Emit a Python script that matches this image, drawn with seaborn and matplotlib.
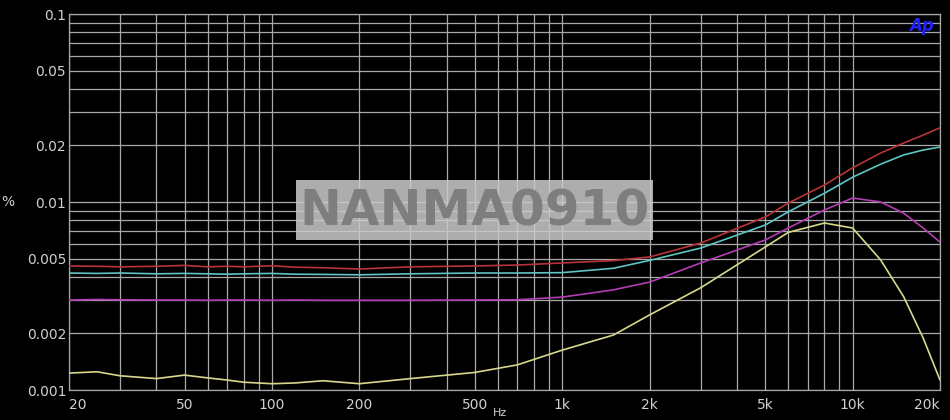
import numpy as np
import pandas as pd
import matplotlib
matplotlib.use("Agg")
import matplotlib.pyplot as plt
from matplotlib.ticker import NullFormatter
from matplotlib.patches import Rectangle
import seaborn as sns

# Frequency points (Hz) and THD+N readings (%)
freq = [20, 25, 30, 40, 50, 60, 70, 80, 100, 120, 150, 200, 300, 500, 700,
        1000, 1500, 2000, 3000, 5000, 6000, 8000, 10000, 12500, 15000, 17500, 20000]

red = [0.00457, 0.00455, 0.00452, 0.00455, 0.00460, 0.00452, 0.00455, 0.00452,
       0.00458, 0.00450, 0.00447, 0.00440, 0.00452, 0.00457, 0.00462, 0.00474,
       0.00488, 0.00510, 0.00605, 0.00832, 0.00986, 0.01232, 0.0152, 0.01823,
       0.0206, 0.0227, 0.0248]
cyan = [0.00419, 0.00417, 0.00419, 0.00415, 0.00417, 0.00415, 0.00413, 0.00415,
        0.00417, 0.00413, 0.00412, 0.00410, 0.00415, 0.00419, 0.00419, 0.00421,
        0.00444, 0.00489, 0.00569, 0.00754, 0.00886, 0.01113, 0.01355, 0.0159,
        0.0178, 0.0189, 0.0196]
magenta = [0.00301, 0.00303, 0.00302, 0.00301, 0.00301, 0.00300, 0.00301, 0.00301,
           0.00300, 0.00301, 0.00300, 0.00300, 0.00300, 0.00301, 0.00302, 0.00312,
           0.00341, 0.00375, 0.00474, 0.00628, 0.00727, 0.00907, 0.0105, 0.0100,
           0.00872, 0.00727, 0.00612]
yellow = [0.00123, 0.00125, 0.00119, 0.00115, 0.00120, 0.00116, 0.00113, 0.00110,
          0.00108, 0.00109, 0.00112, 0.00108, 0.00115, 0.00124, 0.00136, 0.00163,
          0.00196, 0.00251, 0.00350, 0.00576, 0.00689, 0.00773, 0.00727, 0.00491,
          0.00313, 0.00189, 0.00113]

xticks = [20, 50, 100, 200, 500, 1000, 2000, 5000, 10000, 20000]
xlabels = ["20", "50", "100", "200", "500", "1k", "2k", "5k", "10k", "20k"]
yticks = [0.001, 0.002, 0.005, 0.01, 0.02, 0.05, 0.1]
ylabels = ["0.001", "0.002", "0.005", "0.01", "0.02", "0.05", "0.1"]

series = {"red": red, "cyan": cyan, "magenta": magenta, "yellow": yellow}
palette = {"red": "#b8343a", "cyan": "#5fc4c4", "magenta": "#b43cb4", "yellow": "#d8d88c"}

df = pd.concat([pd.DataFrame({"freq": freq, "pct": v, "ch": k}) for k, v in series.items()])

sns.set_style("dark", rc={"axes.facecolor": "black", "figure.facecolor": "black"})
plt.rcParams["font.family"] = ["DejaVu Sans"]

fig = plt.figure(figsize=(9.5, 4.2), dpi=100)
ax = fig.add_axes([69 / 950, 30 / 420, 871 / 950, 376 / 420])

sns.lineplot(data=df, x="freq", y="pct", hue="ch", palette=palette,
             legend=False, linewidth=1.2, ax=ax, zorder=3)

ax.set_xscale("log")
ax.set_yscale("log")
ax.set_xlim(20, 20000)
ax.set_ylim(0.001, 0.1)

ax.grid(True, which="both", color="#a8a8a8", linewidth=0.9, linestyle="-")
ax.set_xticks(xticks)
ax.set_xticklabels(xlabels)
ax.set_yticks(yticks)
ax.set_yticklabels(ylabels)
ax.xaxis.set_minor_formatter(NullFormatter())
ax.yaxis.set_minor_formatter(NullFormatter())
ax.tick_params(which="both", length=0, colors="#d0d0d0", labelsize=10)
ax.tick_params(axis="x", pad=6)
ax.tick_params(axis="y", pad=2)
xt = ax.get_xticklabels()
xt[0].set_ha("left")
xt[-1].set_ha("right")
for s in ax.spines.values():
    s.set_color("#a8a8a8")
    s.set_linewidth(0.9)
ax.set_xlabel("")
ax.set_ylabel("")

fig.text(8 / 950, 1 - 202 / 420, "%", color="#d0d0d0", fontsize=10, ha="center", va="center")
fig.text(500 / 950, 1 - 413 / 420, "Hz", color="#d0d0d0", fontsize=8, ha="center", va="center")

# Ap logo
fig.text(921 / 950, 1 - 26 / 420, "Ap", color="#2222ff", fontsize=12,
         fontweight="bold", fontstyle="italic", ha="center", va="center")

# watermark
fig.patches.append(Rectangle((296 / 950, 1 - 240 / 420), 357 / 950, 60 / 420,
                             transform=fig.transFigure, facecolor="#cccccc",
                             alpha=0.85, edgecolor="none", zorder=5))
fig.text(475 / 950, 1 - 211 / 420, "NANMA0910", color="#7e7e7e", fontsize=36,
         fontweight="bold", ha="center", va="center", zorder=6)

fig.savefig("out.png", dpi=100, facecolor="black")
